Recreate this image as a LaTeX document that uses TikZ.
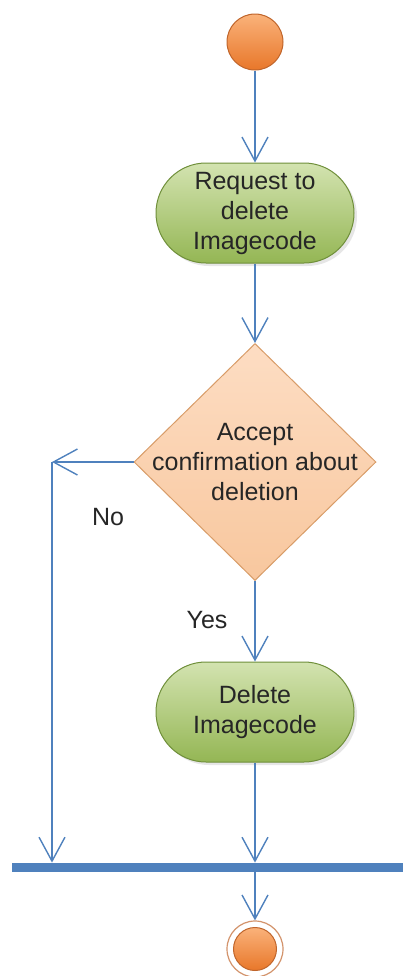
\documentclass[tikz,border=0pt]{standalone}
\usepackage{fontspec}
\setmainfont{Liberation Sans}
\usetikzlibrary{shapes.geometric,arrows.meta,shadows}

\definecolor{flowblue}{HTML}{4F81BD}
\definecolor{acttop}{HTML}{D3E3B0}
\definecolor{actbottom}{HTML}{94B654}
\definecolor{actborder}{HTML}{6F8F3A}
\definecolor{dectop}{HTML}{FDDDC3}
\definecolor{decbottom}{HTML}{F8C79E}
\definecolor{decborder}{HTML}{D89C68}
\definecolor{balltop}{HTML}{FAB27A}
\definecolor{ballbottom}{HTML}{E8772A}
\definecolor{ballborder}{HTML}{C0652B}

\tikzset{
	txt/.style={font=\fontsize{12.5}{15}\selectfont, text=black!85, align=center},
	act/.style={txt, rectangle, rounded corners=25pt, minimum width=99pt, minimum height=50pt,
		draw=actborder, line width=0.5pt, top color=acttop, bottom color=actbottom,
		drop shadow={opacity=0.2, shadow xshift=1.5pt, shadow yshift=-1.5pt}},
	decision/.style={diamond, aspect=1, inner sep=0pt, minimum width=121pt, minimum height=118.5pt,
		draw=decborder, line width=0.5pt, top color=dectop, bottom color=decbottom},
	ball/.style={circle, inner sep=0pt, minimum size=28pt, draw=ballborder, line width=0.5pt,
		top color=balltop, bottom color=ballbottom},
	flow/.style={draw=flowblue, line width=0.7pt, -{Straight Barb[length=12pt,width=13pt]}},
}

\begin{document}
\begin{tikzpicture}[x=0.5pt, y=-0.5pt]
	\useasboundingbox (0,0) rectangle (403,976);
	\node[ball] (start) at (255,42) {};
	\node[act] (req) at (255,213) {Request to\\delete\\Imagecode};
	\node[decision] (dec) at (255,462) {};
	\node[txt] (dectext) at (dec) {Accept\\confirmation about\\deletion};
	\node[act] (del) at (255,712) {Delete\\Imagecode};
	\node[rectangle, fill=flowblue, inner sep=0pt, minimum width=195.5pt, minimum height=4.5pt] (join) at (207.5,867.5) {};
	\node[circle, draw=ballborder!70, line width=0.6pt, fill=white, minimum size=28pt, inner sep=0pt] (endc) at (255,949) {};
	\node[ball, minimum size=21.5pt] (endin) at (endc) {};
	\coordinate (nocorner) at (52,462);
	\node[txt] (nolab) at (108,517) {No};
	\node[txt] (yeslab) at (207,620) {Yes};

	\draw[flow] (start) -- (req);
	\draw[flow] (req) -- (dec);
	\draw[flow] (dec.west) -- (nocorner);
	\draw[flow] (nocorner) -- (nocorner |- join.north);
	\draw[flow] (dec) -- (del);
	\draw[flow] (del) -- (del |- join.north);
	\draw[flow] (endc |- join.south) -- (endc);
\end{tikzpicture}
\end{document}
